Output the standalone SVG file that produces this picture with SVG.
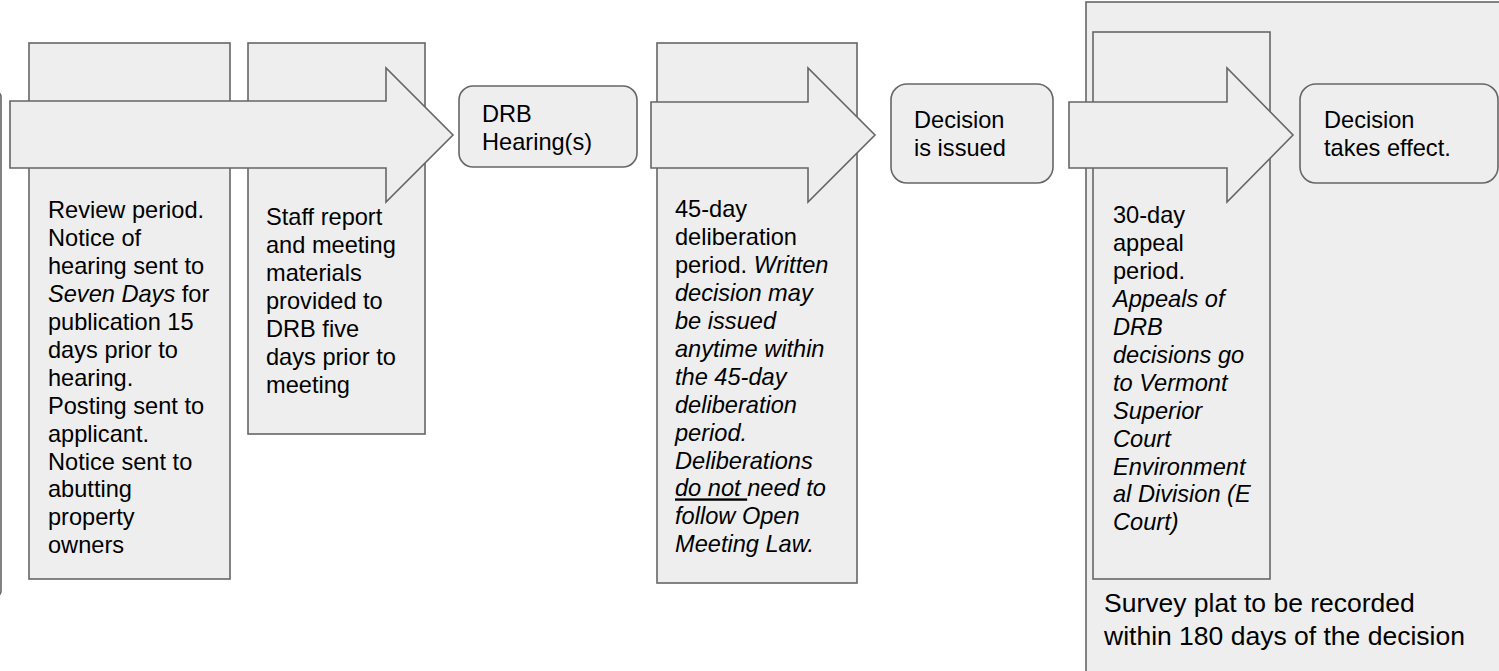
<svg xmlns="http://www.w3.org/2000/svg" width="1499" height="671" viewBox="0 0 1499 671">
  <style>
    .box { fill: #eeeeee; stroke: #666666; stroke-width: 1.6; }
    .arrow { fill: #eeeeee; stroke: #666666; stroke-width: 1.6; stroke-linejoin: miter; }
    text { font-family: "Liberation Sans", Arial, sans-serif; font-size: 23.6px; fill: #000000; }
    .big { font-size: 26.5px; }
    .it { font-style: italic; }
    .ul { text-decoration: underline; }
  </style>

  <rect width="1499" height="671" fill="#ffffff"/>

  <!-- step cut off at the left edge -->
  <g id="prior-step">
    <rect class="box" x="-300" y="91" width="301" height="506" rx="6"/>
  </g>

  <!-- review period -->
  <g id="review-period">
    <rect class="box" x="29" y="43" width="201" height="536"/>
    <text>
      <tspan x="48" y="218">Review period.</tspan>
      <tspan x="48" y="245.9">Notice of</tspan>
      <tspan x="48" y="273.9">hearing sent to</tspan>
      <tspan x="48" y="301.8"><tspan class="it">Seven Days</tspan> for</tspan>
      <tspan x="48" y="329.8">publication 15</tspan>
      <tspan x="48" y="357.7">days prior to</tspan>
      <tspan x="48" y="385.6">hearing.</tspan>
      <tspan x="48" y="413.6">Posting sent to</tspan>
      <tspan x="48" y="441.5">applicant.</tspan>
      <tspan x="48" y="469.5">Notice sent to</tspan>
      <tspan x="48" y="497.4">abutting</tspan>
      <tspan x="48" y="525.3">property</tspan>
      <tspan x="48" y="553.3">owners</tspan>
    </text>
  </g>

  <!-- staff report -->
  <g id="staff-report">
    <rect class="box" x="248" y="43" width="177" height="391"/>
    <text>
      <tspan x="266" y="225">Staff report</tspan>
      <tspan x="266" y="252.9">and meeting</tspan>
      <tspan x="266" y="280.9">materials</tspan>
      <tspan x="266" y="308.8">provided to</tspan>
      <tspan x="266" y="336.8">DRB five</tspan>
      <tspan x="266" y="364.7">days prior to</tspan>
      <tspan x="266" y="392.6">meeting</tspan>
    </text>
  </g>

  <!-- deliberation period -->
  <g id="deliberation-period">
    <rect class="box" x="657" y="43" width="200" height="540"/>
    <text>
      <tspan x="675" y="217">45-day</tspan>
      <tspan x="675" y="244.9">deliberation</tspan>
      <tspan x="675" y="272.9">period. <tspan class="it">Written</tspan></tspan>
      <tspan x="675" y="300.8" class="it">decision may</tspan>
      <tspan x="675" y="328.8" class="it">be issued</tspan>
      <tspan x="675" y="356.7" class="it">anytime within</tspan>
      <tspan x="675" y="384.6" class="it">the 45-day</tspan>
      <tspan x="675" y="412.6" class="it">deliberation</tspan>
      <tspan x="675" y="440.5" class="it">period.</tspan>
      <tspan x="675" y="468.5" class="it">Deliberations</tspan>
      <tspan x="675" y="496.4" class="it"><tspan class="ul">do not </tspan>need to</tspan>
      <tspan x="675" y="524.3" class="it">follow Open</tspan>
      <tspan x="675" y="552.3" class="it">Meeting Law.</tspan>
    </text>
  </g>

  <!-- decision effect panel with survey note -->
  <g id="effect-panel">
    <rect class="box" x="1086" y="2" width="430" height="680"/>
    <text class="big">
      <tspan x="1104" y="612">Survey plat to be recorded</tspan>
      <tspan x="1104" y="644.5">within 180 days of the decision</tspan>
    </text>
  </g>

  <!-- appeal period -->
  <g id="appeal-period">
    <rect class="box" x="1093" y="32" width="177" height="547"/>
    <text>
      <tspan x="1113" y="223">30-day</tspan>
      <tspan x="1113" y="250.9">appeal</tspan>
      <tspan x="1113" y="278.9">period.</tspan>
      <tspan x="1113" y="306.8" class="it">Appeals of</tspan>
      <tspan x="1113" y="334.8" class="it">DRB</tspan>
      <tspan x="1113" y="362.7" class="it">decisions go</tspan>
      <tspan x="1113" y="390.6" class="it">to Vermont</tspan>
      <tspan x="1113" y="418.6" class="it">Superior</tspan>
      <tspan x="1113" y="446.5" class="it">Court</tspan>
      <tspan x="1113" y="474.5" class="it">Environment</tspan>
      <tspan x="1113" y="502.4" class="it">al Division (E</tspan>
      <tspan x="1113" y="530.3" class="it">Court)</tspan>
    </text>
  </g>

  <!-- block arrows between stages -->
  <g id="connectors">
    <path class="arrow" d="M10,101 L386,101 L386,68 L453,135 L386,202 L386,168 L10,168 Z"/>
    <path class="arrow" d="M651,102 L808,102 L808,68 L875,135 L808,202 L808,168 L651,168 Z"/>
    <path class="arrow" d="M1069,102 L1227,102 L1227,68 L1293,135 L1227,202 L1227,168 L1069,168 Z"/>
  </g>

  <g id="drb-hearing">
    <rect class="box" x="459" y="86" width="178" height="81" rx="14"/>
    <text>
      <tspan x="482" y="122">DRB</tspan>
      <tspan x="482" y="150">Hearing(s)</tspan>
    </text>
  </g>

  <g id="decision-issued">
    <rect class="box" x="891" y="84" width="162" height="99" rx="16"/>
    <text>
      <tspan x="914" y="128">Decision</tspan>
      <tspan x="914" y="156">is issued</tspan>
    </text>
  </g>

  <g id="decision-effect">
    <rect class="box" x="1300" y="84" width="198" height="99" rx="16"/>
    <text>
      <tspan x="1324" y="128">Decision</tspan>
      <tspan x="1324" y="156">takes effect.</tspan>
    </text>
  </g>
</svg>
